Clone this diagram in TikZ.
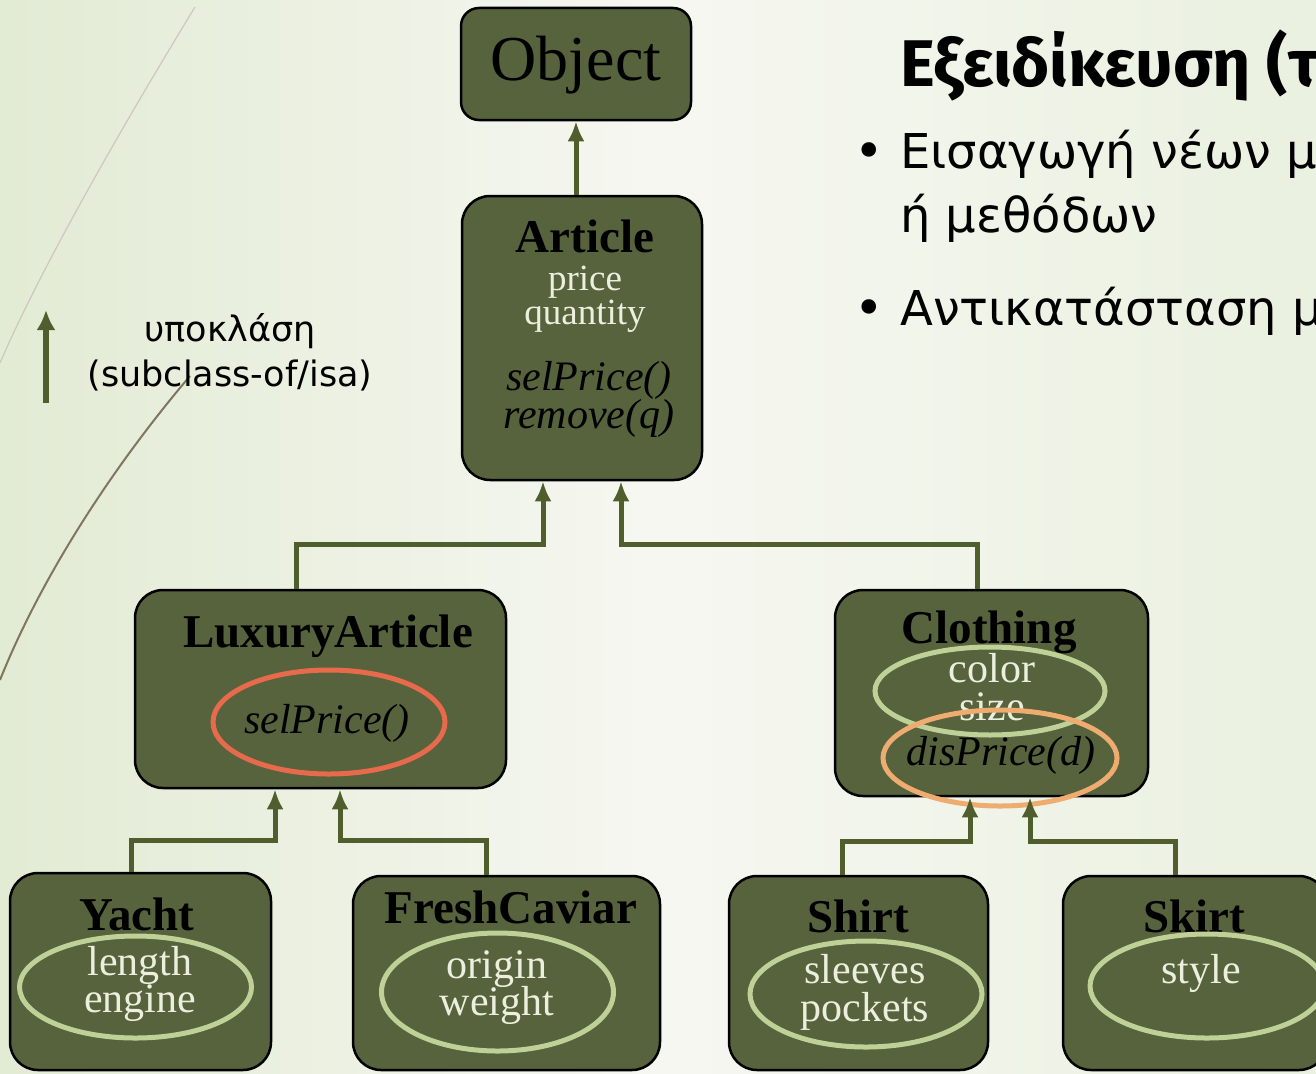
\documentclass[tikz,border=0pt]{standalone}
\usepackage{fontspec}
\setmainfont{Liberation Serif}
\newfontfamily\slidefont{DejaVu Sans}
\newfontfamily\titlefont{Fira Sans}
\usetikzlibrary{arrows.meta}

\definecolor{boxgreen}{RGB}{86,99,60}
\definecolor{linkgreen}{RGB}{80,94,46}
\definecolor{attrtext}{RGB}{236,239,222}
\definecolor{ringgreen}{RGB}{192,209,152}
\definecolor{ringred}{RGB}{232,106,76}
\definecolor{ringorange}{RGB}{238,172,112}
\definecolor{bgleft}{RGB}{226,235,212}
\definecolor{bgmid}{RGB}{246,247,241}
\definecolor{bgright}{RGB}{234,241,224}
\definecolor{swoosh}{RGB}{128,118,96}

\tikzset{
	classbox/.style={draw=black, line width=2.5pt, fill=boxgreen, rounded corners=28pt, inner sep=0pt},
	isa/.style={draw=linkgreen, line width=5pt, -{Latex[length=20pt,width=17pt]}},
	cname/.style={font=\fontsize{47}{47}\selectfont\bfseries, text=black, anchor=base},
	cattr/.style={font=\fontsize{42}{42}\selectfont, text=attrtext, anchor=base},
	cmeth/.style={font=\fontsize{42}{42}\selectfont\itshape, text=black, anchor=base},
	ring/.style={draw=#1, line width=5pt},
	slide/.style={font=\slidefont\fontsize{#1}{#1}\selectfont, text=black, inner sep=0pt}
}

\begin{document}
\begin{tikzpicture}[x=1pt, y=-1pt]
		\useasboundingbox (0,0) rectangle (1316,1073);
		\shade[left color=bgleft, right color=bgright, middle color=bgmid] (0,0) rectangle (1316,1073);
		\draw[swoosh!40, line width=1.2pt] (195,7) .. controls (120,130) and (40,270) .. (0,363);
		\draw[swoosh, line width=2pt] (190,376) .. controls (110,470) and (40,580) .. (0,680);

		\coordinate (legbot) at (46,403);
		\coordinate (legtop) at (46,310);
		\draw[draw=linkgreen, line width=6.5pt, -{Latex[length=20pt,width=19pt]}] (legbot) -- (legtop);
		\node[slide=35, anchor=base] (legname) at (230,341) {υποκλάση};
		\node[slide=35, anchor=base] (legnote) at (230,386) {(subclass-of/isa)};

		\node[font=\titlefont\fontsize{66}{66}\selectfont\bfseries, inner sep=0pt, anchor=base west] (title) at (900,86) {Εξειδίκευση (τ};
		\node[slide=50, anchor=base east] (dotA) at (884,168) {•};
		\node[slide=48, anchor=base west] (bulA) at (900,168) {Εισαγωγή νέων μ};
		\node[slide=48, anchor=base west] (bulAb) at (900,232) {ή μεθόδων};
		\node[slide=50, anchor=base east] (dotB) at (884,325) {•};
		\node[slide=48, anchor=base west] (bulB) at (900,325) {Αντικατάσταση μ};

		\node[classbox, rounded corners=18pt, minimum width=230pt, minimum height=112pt] (obj) at (576,64) {};
		\node[classbox, minimum width=240pt, minimum height=284pt] (art) at (582,338) {};
		\node[classbox, minimum width=371pt, minimum height=198pt] (lux) at (320.5,689) {};
		\node[classbox, minimum width=313pt, minimum height=206pt] (clo) at (991.5,693) {};
		\node[classbox, minimum width=261pt, minimum height=197pt] (yac) at (140.5,971.5) {};
		\node[classbox, minimum width=307pt, minimum height=194pt] (cav) at (506.5,973) {};
		\node[classbox, minimum width=259pt, minimum height=194pt] (shi) at (858.5,973) {};
		\node[classbox, minimum width=264pt, minimum height=194pt] (ski) at (1195,973) {};

		\node[font=\fontsize{64}{64}\selectfont, anchor=base] (objname) at (576,81) {Object};

		\node[cname] (artname) at (585,252) {Article};
		\node[cattr, font=\fontsize{37}{37}\selectfont] (artprice) at (585,290) {price};
		\node[cattr, font=\fontsize{37}{37}\selectfont] (artqty) at (585,324) {quantity};
		\node[cmeth] (artsel) at (589,390) {selPrice()};
		\node[cmeth] (artrem) at (589,428) {remove(q)};

		\node[cname] (luxname) at (328,647) {LuxuryArticle};
		\node[cmeth] (luxsel) at (327,733) {selPrice()};

		\node[cname] (cloname) at (989,643) {Clothing};
		\node[cattr] (clocol) at (992,682) {color};
		\node[cattr] (closize) at (992,720) {size};
		\node[cmeth] (clodis) at (1001,765) {disPrice(d)};

		\node[cname] (yacname) at (137,930) {Yacht};
		\node[cattr] (yaclen) at (140,975) {length};
		\node[cattr] (yaceng) at (140,1012) {engine};

		\node[cname] (cavname) at (511,923) {FreshCaviar};
		\node[cattr] (cavori) at (497,978) {origin};
		\node[cattr] (cavwei) at (497,1015) {weight};

		\node[cname] (shiname) at (858,932) {Shirt};
		\node[cattr] (shislv) at (865,983) {sleeves};
		\node[cattr] (shipck) at (865,1021) {pockets};

		\node[cname] (skiname) at (1194,932) {Skirt};
		\node[cattr] (skisty) at (1201,983) {style};

		\draw[ring=ringred] (329,722) ellipse [x radius=116pt, y radius=52pt];
		\draw[ring=ringgreen] (990,691) ellipse [x radius=115pt, y radius=44pt];
		\draw[ring=ringorange] (1000,758) ellipse [x radius=117pt, y radius=48pt];
		\draw[ring=ringgreen] (135.5,987) ellipse [x radius=116pt, y radius=51pt];
		\draw[ring=ringgreen] (497.5,992) ellipse [x radius=116pt, y radius=59pt];
		\draw[ring=ringgreen] (866,994) ellipse [x radius=116pt, y radius=53pt];
		\draw[ring=ringgreen] (1207,986) ellipse [x radius=117pt, y radius=52pt];

		\draw[isa] (art.north -| obj.south) -- (obj.south);
		\draw[isa] ([xshift=-24.5pt]lux.north) -- ++(0,-44) -| ([xshift=-39pt]art.south);
		\draw[isa] ([xshift=-14.5pt]clo.north) -- ++(0,-44) -| ([xshift=39pt]art.south);
		\draw[isa] ([xshift=-9.5pt]yac.north) -- ++(0,-31) -| ([xshift=-45.5pt]lux.south);
		\draw[isa] ([xshift=-20.5pt]cav.north) -- ++(0,-34) -| ([xshift=19.5pt]lux.south);
		\draw[isa] ([xshift=-16.5pt]shi.north) -- ++(0,-33) -| ([xshift=-21.5pt]clo.south);
		\draw[isa] ([xshift=-20pt]ski.north) -- ++(0,-33) -| ([xshift=38.5pt]clo.south);
	\end{tikzpicture}
\end{document}
